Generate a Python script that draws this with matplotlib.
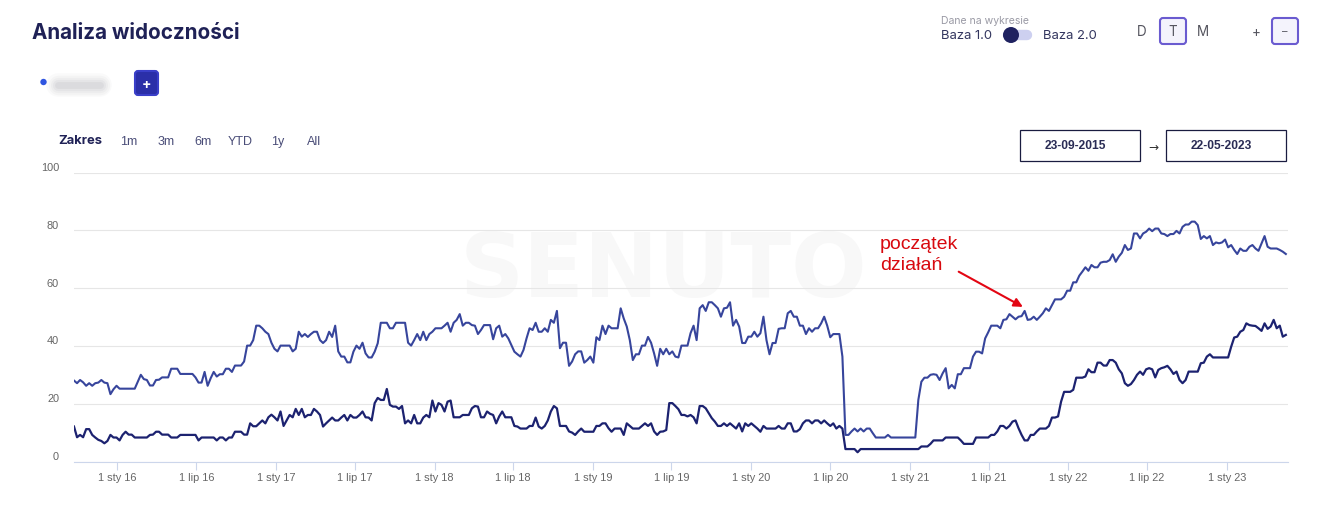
import numpy as np
import matplotlib
matplotlib.use("Agg")
import matplotlib.pyplot as plt
from matplotlib.patches import FancyBboxPatch, Rectangle, Circle
from matplotlib.transforms import ScaledTranslation

# weekly values, first point 23-09-2015
baza_upper = [
    28, 27.1, 28.2, 27.4, 26.2, 27.1, 26.2, 27.1, 27.3, 28.2,
    27.3, 27.1, 23.3, 25, 26.2, 25.2, 25.2, 25.2, 25.2, 25.2,
    25.2, 27.6, 30, 28.5, 28.2, 26.3, 26.3, 28.2, 28.3, 29.1,
    29.1, 29.1, 32.1, 32.1, 32.1, 30.3, 30.3, 30.3, 30.3, 30.3,
    29.1, 27.3, 27.3, 31, 26.2, 28.8, 31, 29.4, 30.2, 30.2,
    32.1, 32.1, 31, 33.2, 33.2, 33.2, 34.6, 40.1, 40.1, 42,
    47, 47, 46.1, 44.9, 44.1, 41.1, 39, 38.1, 40.1, 40.1,
    40.1, 40.1, 38.1, 39, 44.9, 43.2, 44.1, 43.1, 44.1, 44.9,
    44.9, 42, 41, 42, 44.9, 43.1, 47, 38.1, 36.3, 36.3,
    34.3, 34.3, 38, 40.1, 39, 41.1, 37.4, 36, 36, 38,
    40.9, 48, 48, 48, 46.1, 46.1, 48, 48, 48, 48,
    41.1, 40.1, 42, 44.1, 42, 44.9, 42, 44.1, 44.9, 46.1,
    46.1, 46.1, 47, 48, 44.9, 48, 49, 51, 47, 48,
    48, 47.2, 47, 44.1, 45.5, 47.2, 47.2, 47.2, 42.3, 46.1,
    47, 43.2, 44.1, 42.6, 40.3, 38, 37.1, 36.3, 38.6, 42.6,
    46.1, 45.5, 48, 44.9, 44.9, 46.1, 44.9, 49, 48, 52.1,
    39.2, 41.1, 41.1, 33.1, 34.6, 37.1, 38.1, 38.1, 34.2, 35.1,
    36.3, 34.2, 43, 42, 47, 44.1, 47, 46.1, 46.1, 46.1,
    53, 49.5, 46.7, 42, 35.1, 37.1, 37.1, 40.1, 40.1, 43.1,
    41.1, 37.4, 33.1, 39, 37.1, 39, 37.1, 38.1, 36.3, 36,
    40.1, 40.1, 40.1, 44.4, 47, 42, 53, 54.1, 52.1, 55.1,
    55.1, 54.1, 53, 50.1, 53, 53.2, 55.1, 47, 49, 46.7,
    41, 41, 43.2, 43.2, 44.9, 43.2, 44.4, 50.1, 42, 37.1,
    41, 41, 45.9, 46.1, 46.1, 51.3, 52.1, 50.1, 50.1, 47,
    47, 44.1, 46.1, 44.9, 46.1, 46.1, 47.8, 50.1, 47, 43,
    44.1, 44.1, 44.1, 36.3, 9.2, 9.2, 10.4, 11.4, 10.4, 11.4,
    10.4, 11.4, 11.4, 9.8, 8.3, 8.3, 8.3, 8.3, 9.2, 8.3,
    8.3, 8.3, 8.3, 8.3, 8.3, 8.3, 8.3, 8.3, 21.3, 27.6,
    29, 29, 30, 30.2, 30, 28.2, 30.5, 32.3, 25.3, 26.5,
    25.3, 30.2, 30.2, 32.3, 32.3, 32.3, 36.3, 38, 38, 37.4,
    42.6, 44.7, 47, 47, 47, 46.1, 49, 49.2, 51, 50.1,
    49.2, 50.1, 50.3, 52.1, 49, 49.2, 50.1, 49, 50.1, 51.3,
    53, 52.1, 54.1, 56.1, 56.1, 56.1, 57, 59.1, 59.1, 62,
    62, 64.3, 65.7, 67.2, 66, 68, 67.2, 67.2, 68.8, 69.1,
    69.1, 69.7, 71.7, 69.1, 70.9, 72.2, 74.9, 73.2, 73.7, 78.9,
    78.9, 77.2, 78.9, 79.5, 80.6, 79.7, 80.6, 80.6, 78.9, 78.7,
    78, 78.7, 78.7, 79.8, 78.9, 81.2, 82, 82, 83, 83,
    81.8, 77, 78, 77.2, 78, 74.9, 75.8, 75.5, 75.8, 76.8,
    74.1, 74.9, 73.2, 71.8, 73.7, 72.9, 72.9, 74.3, 74.9, 73.7,
    72.9, 75.5, 78, 74.3, 73.7, 73.7, 73.7, 73.2, 72.6, 71.8,
]
baza_lower = [
    12.1, 8.4, 9.2, 8.4, 11.2, 11.2, 9.2, 8.3, 7.5, 7.1,
    6.3, 7.1, 9.2, 8.3, 8.3, 7.3, 9.2, 10.3, 9.3, 9.3,
    8.3, 8.3, 8.3, 8.3, 8.3, 9.2, 9.3, 10.3, 10.3, 9.3,
    9.3, 9.3, 8.3, 8.3, 8.3, 9.2, 9.2, 9.2, 9.2, 9.2,
    9.2, 7.3, 8.3, 8.3, 8.3, 8.3, 8.3, 7.3, 8.3, 8.3,
    7.3, 8.3, 8.3, 10.3, 10.3, 10.3, 9.3, 9.3, 13.2, 12.2,
    12.2, 13.2, 14.2, 13.2, 15.3, 16.2, 15.3, 14.2, 17.3, 12.3,
    14.2, 16.1, 15.3, 18.2, 16.1, 18.2, 15.3, 16.1, 16.1, 18.2,
    17.3, 16.1, 12.1, 13.2, 14.2, 15.2, 14.2, 14.2, 15.2, 16.1,
    14.2, 16.1, 15.2, 15.2, 16.1, 17.3, 15.3, 15.2, 14.2, 20.2,
    22, 21.3, 21.3, 25.1, 19.6, 19, 19, 18.2, 19.2, 13.2,
    14.2, 13.2, 16.1, 13.2, 13.2, 15.2, 16.1, 15.3, 21.1, 17.3,
    20.2, 19.6, 17.3, 20.7, 21.1, 15.3, 15.3, 15.3, 16.1, 16.1,
    16.1, 18.4, 19.2, 19, 15.3, 15.3, 17.3, 16.5, 16.1, 13.2,
    15.6, 17.3, 15.3, 15.3, 15.3, 12.3, 12.1, 11.4, 11.4, 11.4,
    12.3, 12.3, 15.2, 12.1, 11.4, 12.3, 14.2, 17.3, 19.2, 18.4,
    12.3, 12.3, 12.3, 10.4, 10, 9.2, 10.4, 11.4, 10.3, 10.3,
    10.3, 10.3, 12.3, 12.3, 13.2, 13.2, 11.5, 10.3, 11.4, 11.4,
    11.4, 9.2, 13.2, 12.3, 11.4, 11.4, 11.4, 12.3, 13.2, 12.3,
    13.2, 10.4, 9.2, 10.3, 10.4, 10.9, 20.2, 20.2, 19.2, 18.1,
    16.1, 16.1, 15.6, 16.1, 15.3, 13.2, 19.2, 19.2, 18.4, 16.7,
    15, 13.8, 12.3, 12.3, 13.2, 12.3, 13.2, 12.3, 11.4, 13.2,
    10.4, 13.2, 12.3, 13.2, 12.3, 11.4, 10.3, 12.3, 11.4, 11.4,
    11.4, 11.4, 12.3, 11.4, 11.4, 13.2, 13.2, 10.4, 10.4, 11.2,
    13.2, 14.2, 14.2, 13.2, 14.2, 14.2, 13.2, 14.2, 13.2, 12.3,
    13.2, 11.4, 12.3, 11.4, 4.3, 4.3, 4.3, 4.3, 3.2, 4.3,
    4.3, 4.3, 4.3, 4.3, 4.3, 4.3, 4.3, 4.3, 4.3, 4.3,
    4.3, 4.3, 4.3, 4.3, 4.3, 4.3, 4.3, 4.3, 4.3, 5.2,
    5.2, 5.2, 6.1, 7.3, 7.3, 7.3, 7.3, 8.3, 8.3, 8.3,
    8.3, 8.3, 7.3, 6.1, 6.1, 6.1, 6.1, 8.3, 8.3, 8.3,
    8.3, 8.3, 9.2, 9.2, 10.4, 12.3, 12.3, 11.4, 12.3, 13.8,
    14.2, 11.5, 9.2, 7.3, 7.3, 9.2, 9.2, 10.4, 11.4, 11.4,
    11.4, 12.3, 15.2, 15.2, 15.6, 20.7, 24.1, 24.1, 24.1, 24.8,
    29, 29, 29, 29.4, 31.9, 30.9, 30.9, 34.2, 34.2, 33.2,
    33.2, 35.1, 35.1, 34.2, 31.9, 30.5, 27.1, 26.2, 26.8, 28.2,
    30, 31.1, 30, 31.9, 32.3, 31.9, 29.1, 31.7, 32.3, 32.6,
    33.1, 31.9, 30.3, 31.1, 28.2, 27.1, 28.2, 31.1, 31.1, 31.1,
    31.1, 34, 34.2, 36.3, 37.1, 36, 36, 36, 36, 36,
    36, 39.7, 42.9, 43.2, 44.9, 45.5, 47.8, 47.2, 47, 46.9,
    46.1, 45.2, 47.8, 45.9, 46.7, 49, 46.1, 47, 43.2, 43.8,
]
tick_dates = [
    "2016-01-01", "2016-07-01", "2017-01-01", "2017-07-01", "2018-01-01",
    "2018-07-01", "2019-01-01", "2019-07-01", "2020-01-01", "2020-07-01",
    "2021-01-01", "2021-07-01", "2022-01-01", "2022-07-01", "2023-01-01",
]
tick_labels = [
    "1 sty 16", "1 lip 16", "1 sty 17", "1 lip 17", "1 sty 18",
    "1 lip 18", "1 sty 19", "1 lip 19", "1 sty 20", "1 lip 20",
    "1 sty 21", "1 lip 21", "1 sty 22", "1 lip 22", "1 sty 23",
]
y_ticks = [0, 20, 40, 60, 80, 100]
zakres_labels = ["1m", "3m", "6m", "YTD", "1y", "All"]
zakres_x = [129, 166, 203, 240, 278, 314]

W, H = 1329, 530
NAVY = "#1f2156"
SANS = ["Liberation Sans", "DejaVu Sans"]
UI = ["Inter", "DejaVu Sans"]


def px(size):
    return size * 0.72


fig = plt.figure(figsize=(W / 100, H / 100), dpi=100, facecolor="white")

# page furniture, drawn in pixel coordinates
ui = fig.add_axes([0, 0, 1, 1], zorder=0)
ui.set_xlim(0, W)
ui.set_ylim(H, 0)
ui.axis("off")


def label(x, y, s, size, color=NAVY, ha="left", weight="normal", family=UI):
    ui.text(x, y, s, fontsize=px(size), color=color, ha=ha, va="center",
            fontweight=weight, family=family)


def button(x0, y0, x1, y1, face, edge):
    ui.add_patch(FancyBboxPatch((x0 + 3, y0 + 3), x1 - x0 - 6, y1 - y0 - 6,
                                boxstyle="round,pad=3", fc=face, ec=edge, lw=1.5))


label(32, 33, "Analiza widoczności", 20.6, weight="bold")
label(941, 21.5, "Dane na wykresie", 10.5, color="#9a9aa5")
label(941, 36, "Baza 1.0", 13, color="#33365f")
label(1043, 36, "Baza 2.0", 13, color="#33365f")
ui.plot([1008, 1027], [35, 35], color="#cdd0f0", lw=7.5, solid_capstyle="round", zorder=2)
ui.add_patch(Circle((1011, 35), 8, fc="#1f2260", ec="none", zorder=3))
button(1160, 18, 1186, 44, "#f4f3fc", "#6a5bd0")
button(1272, 18, 1298, 44, "#f4f3fc", "#6a5bd0")
label(1142, 32.5, "D", 13.5, color="#55555f", ha="center")
label(1173, 32.5, "T", 13.5, color="#55555f", ha="center")
label(1203, 32.5, "M", 13.5, color="#55555f", ha="center")
label(1256, 32.5, "+", 13.5, color="#55555f", ha="center")
label(1285, 32.5, "–", 11, color="#55555f", ha="center")

ui.add_patch(Circle((43.5, 82), 3.2, fc="#2f55e0", ec="none"))
# blurred name in the original
for lw, a in [(17, .04), (14, .05), (11, .06), (8, .08), (5, .1)]:
    ui.plot([58, 100], [85, 85], color="#8a8a95", lw=lw, alpha=a, solid_capstyle="round")
button(135, 71, 158, 95, "#2b2fa8", "#3a3fc8")
label(146.5, 84.5, "+", 14, color="white", ha="center", weight="bold")

label(58, 141.5, "Zakres", 13, weight="bold")
for xz, s in zip(zakres_x, zakres_labels):
    label(xz, 142, s, 12.5, color="#4a4d78", ha="center", family=SANS)

for x0, s in [(1020, "23-09-2015"), (1166, "22-05-2023")]:
    ui.add_patch(Rectangle((x0, 130), 120, 30.5, fc="white", ec="#1a1c40", lw=0.9))
    label(x0 + 25, 146, s, 12, color="#2a2c55", weight="bold", family=SANS)
label(1153, 147, "→", 12, color="#333333", ha="center", family=["DejaVu Sans"])

ui.text(663, 272, "SENUTO", fontsize=px(89), color="#f8f8f8", ha="center",
        va="center", fontweight="bold", family=["DejaVu Sans"])

# chart
ax = fig.add_axes([74 / W, 1 - 461.5 / H, 1214 / W, 289 / H], zorder=1)
ax.patch.set_visible(False)
dates_upper = np.datetime64("2015-09-23") + np.arange(len(baza_upper)) * 7
dates_lower = np.datetime64("2015-09-23") + np.arange(len(baza_lower)) * 7
ax.plot(dates_upper, baza_upper, color="#37459c", lw=1.5, solid_joinstyle="round")
ax.plot(dates_lower, baza_lower, color="#1c2270", lw=1.6, solid_joinstyle="round")
ax.set_xlim(np.datetime64("2015-09-23"), np.datetime64("2023-05-22"))
ax.set_ylim(0, 100)

ax.set_yticks(y_ticks)
ax.grid(axis="y", color="#e6e6e6", lw=0.8)
ax.set_axisbelow(True)
ax.set_xticks(np.array(tick_dates, dtype="datetime64[D]"))
ax.set_xticklabels(tick_labels, fontsize=px(11), color="#666666", family=SANS)
ax.tick_params(axis="x", length=6, width=0.8, color="#ccd6eb", pad=2.5)
ax.tick_params(axis="y", length=0, pad=10.7, labelsize=px(11), labelcolor="#666666")
shift = ScaledTranslation(0, 5.5 / 100, fig.dpi_scale_trans)
for t in ax.get_yticklabels():
    t.set_family(SANS)
    t.set_transform(t.get_transform() + shift)
for side in ["top", "right", "left"]:
    ax.spines[side].set_visible(False)
ax.spines["bottom"].set_color("#ccd6eb")
ax.spines["bottom"].set_linewidth(0.8)

ax.annotate("", xy=(np.datetime64("2021-09-18"), 53.5), xytext=(958.7, 271.7),
            textcoords=ui.transData,
            arrowprops=dict(arrowstyle="-|>", color="#e30613", lw=1.5,
                            mutation_scale=13, shrinkA=0, shrinkB=0))
ax.annotate("początek\ndziałań", xy=(880, 255), xycoords=ui.transData, ha="left",
            va="center", fontsize=px(19.5), color="#d8090f", family=SANS,
            linespacing=1.25, annotation_clip=False)

fig.savefig("out.png", dpi=100)
